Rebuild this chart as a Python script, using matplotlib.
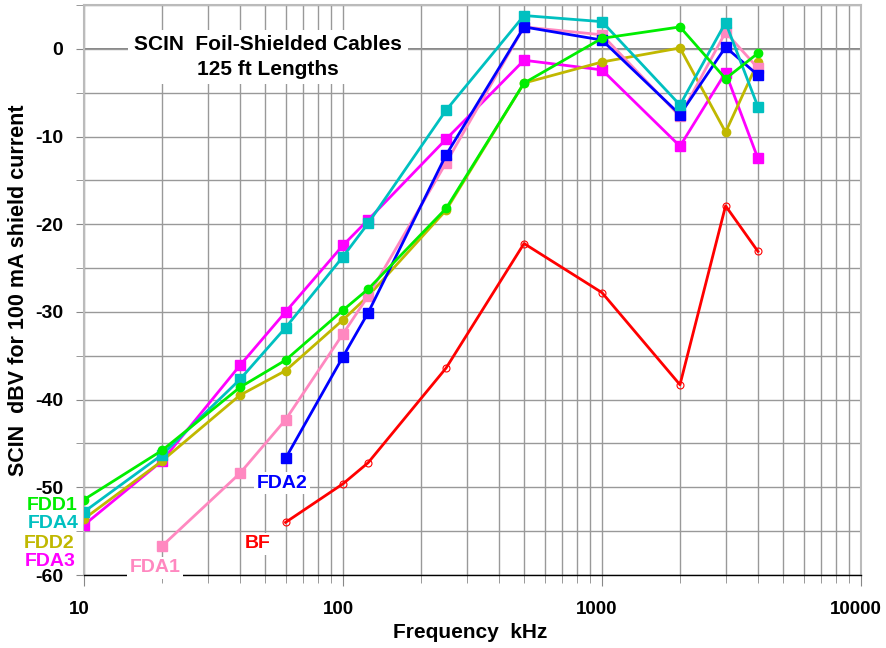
import matplotlib
matplotlib.use("Agg")
import matplotlib.pyplot as plt
import matplotlib.transforms as mtrans
from matplotlib.ticker import FixedLocator, NullFormatter

plt.rcParams['font.family'] = ['Liberation Sans', 'DejaVu Sans']
plt.rcParams['axes.unicode_minus'] = False

freq_full = [10, 20, 40, 60, 100, 125, 250, 500, 1000, 2000, 3000, 4000]
freq_fda1 = [20, 40, 60, 100, 125, 250, 500, 1000, 2000, 3000, 4000]
freq_short = [60, 100, 125, 250, 500, 1000, 2000, 3000, 4000]

fdd1 = [-51.4, -45.8, -38.6, -35.5, -29.8, -27.4, -18.2, -3.9, 1.2, 2.5, -3.4, -0.5]
fda4 = [-52.8, -46.3, -37.7, -31.8, -23.7, -19.9, -7.0, 3.8, 3.1, -6.4, 3.0, -6.6]
fdd2 = [-53.6, -47.0, -39.5, -36.7, -30.9, -28.2, -18.4, -3.9, -1.5, 0.1, -9.5, -1.5]
fda3 = [-54.3, -47.0, -36.1, -30.0, -22.4, -19.5, -10.3, -1.3, -2.4, -11.1, -2.7, -12.5]
fda1 = [-56.7, -48.4, -42.3, -32.5, -28.2, -13.0, 2.5, 1.6, -7.7, 1.9, -2.2]
fda2 = [-46.7, -35.1, -30.1, -12.1, 2.5, 1.0, -7.5, 0.2, -3.0]
bf = [-54.0, -49.6, -47.2, -36.4, -22.2, -27.8, -38.3, -17.9, -23.1]

c_fdd1 = '#00ee00'
c_fda4 = '#00c0c0'
c_fdd2 = '#c0b800'
c_fda3 = '#ff00ff'
c_fda1 = '#ff88c0'
c_fda2 = '#0000ff'
c_bf = '#ff0000'

fig = plt.figure(figsize=(8.86, 6.48), dpi=100)
ax = fig.add_axes([84/886, 1-575/648, (861-84)/886, (575-5)/648])
ax.set_xscale('log')
ax.set_xlim(10, 10000)
ax.set_ylim(-60, 5)

# grid
ax.xaxis.set_major_locator(FixedLocator([10, 100, 1000, 10000]))
minors = [m * d for d in (10, 100, 1000) for m in range(2, 10)]
ax.xaxis.set_minor_locator(FixedLocator(minors))
ax.xaxis.set_minor_formatter(NullFormatter())
ax.set_xticklabels(['10', '100', '1000', '10000'])
ax.yaxis.set_major_locator(FixedLocator(list(range(-60, 1, 10))))
ax.yaxis.set_minor_locator(FixedLocator(list(range(-55, 6, 10))))
ax.grid(True, which='both', color='#999999', linewidth=1.0, zorder=0)
ax.axhline(0, color='#707070', linewidth=1.2, zorder=0.5)

for s in ('left', 'right', 'top'):
    ax.spines[s].set_color('#bbbbbb')
    ax.spines[s].set_linewidth(1.5)
ax.spines['bottom'].set_color('black')
ax.spines['bottom'].set_linewidth(1.0)

ax.tick_params(axis='both', which='both', direction='out', colors='#888888',
               labelcolor='black', labelsize=14)
ax.tick_params(axis='x', which='major', length=8, pad=11, labelsize=13.5)
ax.tick_params(axis='x', which='minor', length=6)
ax.tick_params(axis='y', which='both', length=6, pad=9)
shift = mtrans.ScaledTranslation(-5 / 100, 0, fig.dpi_scale_trans)
for lbl in ax.get_xticklabels():
    lbl.set_fontweight('bold')
    lbl.set_transform(lbl.get_transform() + shift)
for lbl in ax.get_yticklabels():
    lbl.set_fontweight('bold')

lw = 2.0
ax.plot(freq_short, bf, color=c_bf, lw=lw, marker='o', ms=5, mfc='none',
        mec=c_bf, mew=0.8, zorder=3)
ax.plot(freq_full, fda3, color=c_fda3, lw=lw, marker='s', ms=6.5, zorder=4)
ax.plot(freq_full, fdd2, color=c_fdd2, lw=lw, marker='o', ms=6, zorder=5)
ax.plot(freq_fda1, fda1, color=c_fda1, lw=lw, marker='s', ms=6.5, zorder=5.5)
ax.plot(freq_short, fda2, color=c_fda2, lw=lw, marker='s', ms=6.5, zorder=6)
ax.plot(freq_full, fda4, color=c_fda4, lw=lw, marker='s', ms=6.5, zorder=7)
ax.plot(freq_full, fdd1, color=c_fdd1, lw=lw, marker='o', ms=6, zorder=8)

def px(x, y):
    return (x / 886, 1 - y / 648)

box = dict(facecolor='white', edgecolor='none', pad=2)
fig.text(*px(268, 57), 'SCIN  Foil-Shielded Cables\n125 ft Lengths', ha='center',
         va='center', fontsize=15, fontweight='bold', linespacing=1.35,
         bbox=dict(facecolor='white', edgecolor='none', pad=4))

lab = dict(fontsize=14, fontweight='bold', ha='center', va='center')
fig.text(*px(52, 505), 'FDD1', color=c_fdd1, **lab)
fig.text(*px(53, 524), 'FDA4', color=c_fda4, **lab)
fig.text(*px(49, 543), 'FDD2', color=c_fdd2, **lab)
fig.text(*px(50, 561), 'FDA3', color=c_fda3, **lab)
fig.text(*px(155, 568), 'FDA1', color=c_fda1, bbox=box, zorder=10, **lab)
fig.text(*px(282, 483), 'FDA2', color=c_fda2, bbox=box, zorder=10, **lab)
fig.text(*px(258, 544), 'BF', color=c_bf, bbox=box, zorder=10, **lab)

fig.text(*px(470, 632), 'Frequency  kHz', ha='center', va='center',
         fontsize=15, fontweight='bold')
fig.text(*px(19, 290), 'SCIN  dBV for 100 mA shield current', ha='center',
         va='center', rotation=90, fontsize=15.5, fontweight='bold')

fig.savefig('out.png', dpi=100)
